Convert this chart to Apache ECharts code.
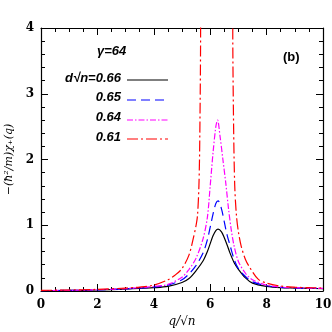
<!DOCTYPE html>
<html><head><meta charset="utf-8">
<script src="https://cdn.jsdelivr.net/npm/echarts@6/dist/echarts.min.js"></script>
<style>html,body{margin:0;padding:0;background:#fff}#c{width:332px;height:332px}</style>
</head><body><div id="c"></div>
<script>
// Data
var qBlack = [0,1,2,3,3.5,4,4.5,5,5.25,5.5,5.75,5.9,6,6.1,6.2,6.28,6.4,6.5,6.6,6.7,6.85,7,7.25,7.5,8,8.5,9,9.5,10];
var yBlack = [0.005,0.008,0.015,0.03,0.04,0.05,0.07,0.13,0.19,0.31,0.46,0.60,0.72,0.84,0.92,0.94,0.90,0.81,0.70,0.58,0.43,0.33,0.20,0.12,0.07,0.05,0.045,0.04,0.035];
var qBlue = [0,1,2,3,3.5,4,4.5,5,5.25,5.5,5.75,5.9,6,6.1,6.2,6.28,6.4,6.5,6.6,6.7,6.85,7,7.25,7.5,8,8.5,9,9.5,10];
var yBlue = [0.006,0.009,0.017,0.033,0.045,0.06,0.09,0.17,0.26,0.39,0.58,0.78,0.97,1.17,1.33,1.37,1.25,1.05,0.85,0.70,0.48,0.34,0.22,0.14,0.08,0.055,0.048,0.042,0.038];
var qMagenta = [0,1,2,3,3.5,4,4.5,5,5.25,5.5,5.75,5.9,6,6.1,6.2,6.26,6.35,6.45,6.55,6.65,6.75,6.85,7,7.25,7.5,8,8.5,9,9.5,10];
var yMagenta = [0.007,0.01,0.019,0.036,0.05,0.07,0.10,0.21,0.33,0.50,0.80,1.12,1.60,2.10,2.50,2.60,2.35,2.00,1.65,1.25,0.92,0.68,0.45,0.27,0.17,0.09,0.06,0.05,0.044,0.04];
var qRed = [0,1,2,3,3.5,4,4.5,4.75,5,5.25,5.4,5.5,5.55,5.6,5.63,5.66,5.7,6.2,6.76,6.8,6.83,6.87,6.93,7,7.1,7.25,7.4,7.7,8,8.5,9,9.5,10];
var yRed = [0.01,0.015,0.025,0.045,0.06,0.09,0.17,0.24,0.34,0.55,0.80,1.00,1.15,1.60,2.30,4.00,30,null,30,4.00,2.50,1.60,1.15,0.90,0.68,0.48,0.36,0.18,0.12,0.075,0.058,0.05,0.045];
var xTicks = [0,2,4,6,8,10];
var yTicks = [0,1,2,3,4];
var legendLabels = ['d\u221An=0.66','0.65','0.64','0.61'];
var paramLabel = '\u03B3=64';
var panelLabel = '(b)';

function pairs(xs, ys){ return xs.map(function(x,i){ return [x, ys[i]]; }); }

var serif = 'DejaVu Serif';
var chart = echarts.init(document.getElementById('c'), null, {renderer:'canvas'});
var axisCommon = {
  axisLine:{show:true, onZero:false, lineStyle:{color:'#000', width:1.2}},
  axisTick:{show:true, inside:true, length:7, lineStyle:{color:'#000', width:1}},
  splitLine:{show:false}
};
function xAx(pos, showLabel){
  return Object.assign({}, axisCommon, {
    type:'value', position:pos, min:0, max:10, interval:2,
    minorTick:{show:true, splitNumber:4, length:4, lineStyle:{color:'#000', width:1}},
    axisLabel:{show:showLabel, color:'#000', fontFamily:serif, fontWeight:'bold', fontSize:12, margin:8},
    name: showLabel ? 'q/\u221An' : '', nameLocation:'middle', nameGap:24,
    nameTextStyle:{color:'#000', fontFamily:serif, fontStyle:'italic', fontSize:12}
  });
}
function yAx(pos, showLabel){
  return Object.assign({}, axisCommon, {
    type:'value', position:pos, min:0, max:4, interval:1,
    minorTick:{show:true, splitNumber:5, length:4, lineStyle:{color:'#000', width:1}},
    axisLabel:{show:showLabel, color:'#000', fontFamily:serif, fontWeight:'bold', fontSize:12, margin:7},
    name: showLabel ? '\u2212(\u0127\u00B2/m)\u03C7\u208A(q)' : '', nameLocation:'middle', nameGap:25, nameRotate:90,
    nameTextStyle:{color:'#000', fontFamily:serif, fontStyle:'italic', fontSize:11}
  });
}
var colors = ['#000000','#0000ff','#ff00ff','#ff0000'];
var dashes = ['solid',[9,5],[6,2,1.5,2],[11,3,2,3]];
var datasets = [pairs(qBlack,yBlack), pairs(qBlue,yBlue), pairs(qMagenta,yMagenta), pairs(qRed,yRed)];
var series = datasets.map(function(d,i){
  return {type:'line', data:d, xAxisIndex:0, yAxisIndex:0, showSymbol:false, smooth:0.3,
    connectNulls:false, clip:true, lineStyle:{color:colors[i], width:1.2, type:dashes[i]}, silent:true, animation:false};
});

var legendY = [80,100,120,139];
var textY = [78,97,117,137];
var graphic = [];
graphic.push({type:'text', x:97, y:45, style:{text:paramLabel, font:'italic bold 13px "Liberation Sans"', fill:'#000'}});
graphic.push({type:'text', x:283, y:51, style:{text:panelLabel, font:'bold 13px "Liberation Sans"', fill:'#000'}});
legendLabels.forEach(function(t,i){
  graphic.push({type:'text', x:121, y:textY[i], style:{text:t, font:'italic bold 13px "Liberation Sans"', fill:'#000', align:'right', verticalAlign:'middle'}});
  graphic.push({type:'line', shape:{x1:127, y1:legendY[i], x2:168, y2:legendY[i]},
    style:{stroke:colors[i], lineWidth:1.2, lineDash: dashes[i]==='solid'?null:dashes[i]}});
});

chart.setOption({
  animation:false,
  backgroundColor:'#fff',
  grid:{left:41, right:9, top:28, bottom:41, containLabel:false, outerBoundsMode:'none'},
  xAxis:[xAx('bottom',true), xAx('top',false)],
  yAxis:[yAx('left',true), yAx('right',false)],
  series:series,
  graphic:graphic
});
</script></body></html>
